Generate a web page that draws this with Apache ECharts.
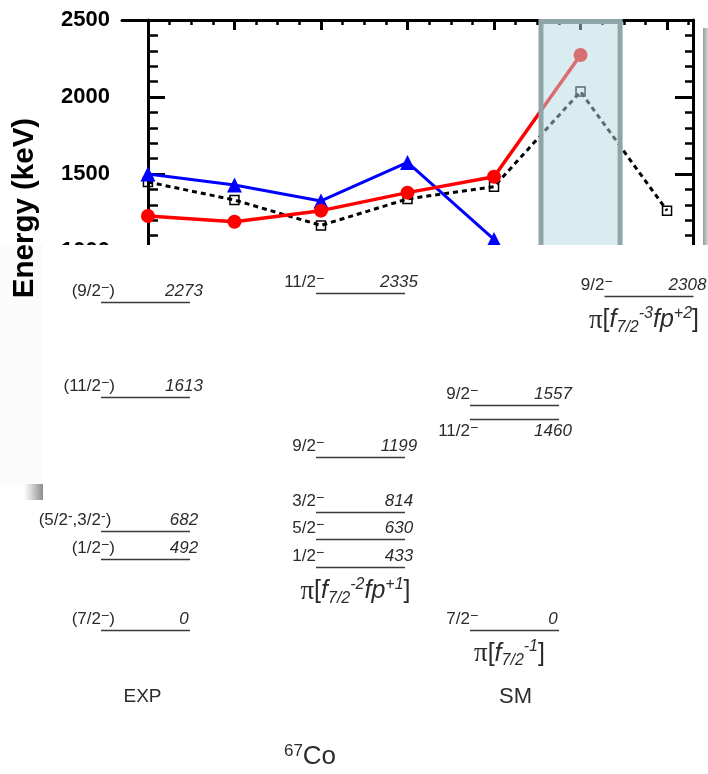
<!DOCTYPE html>
<html>
<head>
<meta charset="utf-8">
<script src="https://cdn.jsdelivr.net/npm/echarts@6/dist/echarts.min.js"></script>
<style>
  html, body { margin: 0; padding: 0; background: #fff; }
  #chart { width: 708px; height: 774px; }
</style>
</head>
<body>
<div id="chart"></div>
<script>
// ---- Energy systematics (upper panel) ----
const categoryIndex = [0, 1, 2, 3, 4, 5, 6];
const redSeries    = [1227, 1190, 1262, 1379, 1482, 2273, null];
const blueSeries   = [1500, 1429, 1325, 1575, 1075, null, null];
const dottedSeries = [1448, 1331, 1166, 1338, 1418, 2035, 1262];
const highlightedCategory = 5;
const energyTicks = [1000, 1500, 2000, 2500];

// ---- 67Co level scheme (lower panel) ----
const expSpins = ['(7/2\u2212)', '(1/2\u2212)', '(5/2-,3/2-)', '(11/2\u2212)', '(9/2\u2212)'];
const expEnergies = [0, 492, 682, 1613, 2273];
const twoHoleSpins = ['1/2\u2212', '5/2\u2212', '3/2\u2212', '9/2\u2212', '11/2\u2212'];
const twoHoleEnergies = [433, 630, 814, 1199, 2335];
const oneHoleSpins = ['7/2\u2212', '11/2\u2212', '9/2\u2212'];
const oneHoleEnergies = [0, 1460, 1557];
const threeHoleSpins = ['9/2\u2212'];
const threeHoleEnergies = [2308];

const twoHoleConfig   = '{p|\u03c0}{n|[}{i|f}{sub|7/2}{sup|-2}{i|fp}{sup|+1}{n|]}';
const oneHoleConfig   = '{p|\u03c0}{n|[}{i|f}{sub|7/2}{sup|-1}{n|]}';
const threeHoleConfig = '{p|\u03c0}{n|[}{i|f}{sub|7/2}{sup|-3}{i|fp}{sup|+2}{n|]}';
const columnTitles = ['EXP', 'SM'];
const nucleusMass = '67';
const nucleusSymbol = 'Co';

// ---- layout ----
const FONT = '"Liberation Sans", Arial, Helvetica, sans-serif';
const TEXT_COLOR = '#2b2b2b';
const COLUMN_CENTERS = [145.5, 360.5, 514.5, 649];
const LEVEL_HALF_WIDTH = 44.5;

const columns = [
  { spins: expSpins, energies: expEnergies, config: null },
  { spins: twoHoleSpins, energies: twoHoleEnergies, config: twoHoleConfig },
  { spins: oneHoleSpins, energies: oneHoleEnergies, config: oneHoleConfig },
  { spins: threeHoleSpins, energies: threeHoleEnergies, config: threeHoleConfig }
];

// flatten levels; a level whose neighbour above is close gets its labels below the line
const levelItems = [];
columns.forEach((c, col) => {
  c.energies.forEach((e, i) => {
    const crowded = c.energies.some(o => o > e && o - e < 150);
    levelItems.push({ col, energy: e, spin: c.spins[i], below: crowded });
  });
});
const configItems = columns
  .map((c, col) => ({ col, energy: Math.min(...c.energies), text: c.config }))
  .filter(c => c.text);

// superscripts/subscripts are lifted or dropped with padding so they sit the same way in every line
const SPIN_RICH = {
  n: { fontSize: 17, fontFamily: FONT, fill: TEXT_COLOR, lineHeight: 20 },
  s: { fontSize: 14, fontFamily: FONT, fill: TEXT_COLOR, lineHeight: 14, padding: [0, 0, 6, 0] },
  e: { fontSize: 17, fontFamily: FONT, fontStyle: 'italic', fill: TEXT_COLOR, lineHeight: 20 }
};
const CONFIG_RICH = {
  p: { fontSize: 27, fontFamily: '"Liberation Serif", "DejaVu Serif", serif', fill: TEXT_COLOR, lineHeight: 30 },
  n: { fontSize: 25, fontFamily: FONT, fill: TEXT_COLOR, lineHeight: 30 },
  i: { fontSize: 25, fontFamily: FONT, fontStyle: 'italic', fill: TEXT_COLOR, lineHeight: 30 },
  sub: { fontSize: 16, fontFamily: FONT, fontStyle: 'italic', fill: TEXT_COLOR, lineHeight: 16, padding: [14, 0, 0, 0] },
  sup: { fontSize: 16, fontFamily: FONT, fontStyle: 'italic', fill: TEXT_COLOR, lineHeight: 16, padding: [0, 0, 14, 0] }
};

// each piece ends with a plain token so the line box always has full height
function toRich(s) {
  return s.split(/([\u2212-])/).filter(Boolean)
    .map(t => /[\u2212-]/.test(t) ? '{s|' + t + '}' : '{n|' + t + '}').join('') + '{n| }';
}
function splitSpin(s) {
  const idx = Math.max(s.lastIndexOf('\u2212'), s.lastIndexOf('-'));
  return [s.slice(0, idx), s.slice(idx)];
}
function pairs(values) {
  return categoryIndex.map((c, i) => [c, values[i]]).filter(p => p[1] != null);
}

// minor tick positions on the top axis (quarters between categories)
const minorTickValues = [];
categoryIndex.forEach(c => [0.25, 0.5, 0.75].forEach(f => {
  if (c + f < 6.3) minorTickValues.push(c + f);
}));

const AXIS_LINE = { show: true, lineStyle: { color: '#000', width: 3 } };
const mainGrid = { left: 122, top: 20, width: 571, height: 231 };

const chart = echarts.init(document.getElementById('chart'), null, { renderer: 'canvas' });

chart.setOption({
  animation: false,
  backgroundColor: '#fff',
  grid: [
    Object.assign({}, mainGrid),
    Object.assign({}, mainGrid),
    { left: 0, top: 268.75, width: 708, height: 361.25 }
  ],
  xAxis: [
    {
      type: 'value', gridIndex: 0, position: 'top', min: -0.3, max: 6.3,
      axisLine: AXIS_LINE,
      axisTick: { show: true, inside: true, length: 10, customValues: categoryIndex, lineStyle: { color: '#000', width: 3 } },
      axisLabel: { show: false }, splitLine: { show: false }
    },
    {
      type: 'value', gridIndex: 1, position: 'top', min: -0.3, max: 6.3,
      axisLine: { show: false },
      axisTick: { show: true, inside: true, length: 5, customValues: minorTickValues, lineStyle: { color: '#000', width: 2.5 } },
      axisLabel: { show: false }, splitLine: { show: false }
    },
    { type: 'value', gridIndex: 2, min: 0, max: 1, show: false }
  ],
  yAxis: [
    {
      type: 'value', gridIndex: 0, position: 'left', min: 1000, max: 2500, interval: 500,
      axisLine: AXIS_LINE,
      axisTick: { show: true, inside: true, length: 17, lineStyle: { color: '#000', width: 3 } },
      minorTick: { show: true, splitNumber: 5, length: 10, lineStyle: { color: '#000', width: 2.5 } },
      axisLabel: { fontSize: 22, fontWeight: 'bold', fontFamily: FONT, color: '#000', margin: 12, formatter: v => String(v) },
      splitLine: { show: false }
    },
    {
      type: 'value', gridIndex: 0, position: 'right', min: 1000, max: 2500, interval: 500,
      axisLine: AXIS_LINE,
      axisTick: { show: true, inside: true, length: 18, lineStyle: { color: '#000', width: 3 } },
      minorTick: { show: true, splitNumber: 5, length: 8, lineStyle: { color: '#000', width: 2.5 } },
      axisLabel: { show: false }, splitLine: { show: false }
    },
    { type: 'value', gridIndex: 1, min: 1000, max: 2500, show: false },
    { type: 'value', gridIndex: 2, min: 0, max: 2500, show: false }
  ],
  series: [
    {
      type: 'line', xAxisIndex: 0, yAxisIndex: 0, z: 2,
      data: pairs(dottedSeries),
      symbol: 'rect', symbolSize: 9,
      itemStyle: { color: 'rgba(255,255,255,0)', borderColor: '#000', borderWidth: 1.5 },
      lineStyle: { color: '#000', width: 3, type: [5, 4] },
      emphasis: { disabled: true }
    },
    {
      type: 'line', xAxisIndex: 0, yAxisIndex: 0, z: 3,
      data: pairs(blueSeries),
      symbol: 'triangle', symbolSize: 15,
      itemStyle: { color: '#0000ff' },
      lineStyle: { color: '#0000ff', width: 3 },
      emphasis: { disabled: true }
    },
    {
      type: 'line', xAxisIndex: 0, yAxisIndex: 0, z: 4,
      data: pairs(redSeries),
      symbol: 'circle', symbolSize: 14,
      itemStyle: { color: '#ff0000' },
      lineStyle: { color: '#ff0000', width: 3.5 },
      emphasis: { disabled: true }
    },
    {
      // shaded band over the highlighted category
      type: 'custom', xAxisIndex: 0, yAxisIndex: 0, z: 6,
      data: [[highlightedCategory, energyTicks[energyTicks.length - 1]]],
      renderItem: function (params, api) {
        const top = api.coord([api.value(0), energyTicks[energyTicks.length - 1]]);
        const bottom = api.coord([api.value(0), energyTicks[0]]);
        const halfW = api.size([1, 0])[0] * 0.457;
        return {
          type: 'rect',
          shape: { x: top[0] - halfW, y: top[1] + 1.5, width: 2 * halfW, height: bottom[1] - top[1] + 10 },
          style: { fill: 'rgba(179,220,225,0.5)', stroke: '#8fa6a8', lineWidth: 5 }
        };
      }
    },
    {
      // level lines with spin and energy labels
      type: 'custom', xAxisIndex: 2, yAxisIndex: 3, z: 30,
      data: levelItems.map(l => [l.col, l.energy]),
      renderItem: function (params, api) {
        const lv = levelItems[params.dataIndex];
        const y = Math.round(api.coord([0, api.value(1)])[1]) + 0.5;
        const cx = COLUMN_CENTERS[lv.col];
        const x0 = cx - LEVEL_HALF_WIDTH, x1 = cx + LEVEL_HALF_WIDTH;
        const va = lv.below ? 'top' : 'bottom';
        const ty = lv.below ? y + 2 : y - 1;
        const parts = splitSpin(lv.spin);
        return {
          type: 'group',
          children: [
            { type: 'line', shape: { x1: x0, y1: y, x2: x1, y2: y }, style: { stroke: '#3a3a3a', lineWidth: 1.5 } },
            { type: 'text', x: x0 + 4.7, y: ty, style: { text: toRich(parts[0]), rich: SPIN_RICH, align: 'right', verticalAlign: va } },
            { type: 'text', x: x0, y: ty, style: { text: toRich(parts[1]), rich: SPIN_RICH, align: 'left', verticalAlign: va } },
            { type: 'text', x: x1 - 6, y: ty, style: { text: '{e|' + api.value(1) + '}', rich: SPIN_RICH, align: 'center', verticalAlign: va } }
          ]
        };
      }
    },
    {
      // configuration labels under the lowest level of each calculated group
      type: 'custom', xAxisIndex: 2, yAxisIndex: 3, z: 30,
      data: configItems.map(c => [c.col, c.energy]),
      renderItem: function (params, api) {
        const item = configItems[params.dataIndex];
        const y = api.coord([0, api.value(1)])[1];
        return {
          type: 'text',
          x: COLUMN_CENTERS[item.col] - 5, y: y + 24,
          style: { text: item.text, rich: CONFIG_RICH, align: 'center', verticalAlign: 'middle' }
        };
      }
    }
  ],
  graphic: {
    elements: [
      { type: 'rect', z: 19, shape: { x: 0, y: 245, width: 43, height: 240 }, style: { fill: '#fbfbfb' } },
      { type: 'rect', z: 20, shape: { x: 43, y: 245, width: 665, height: 529 }, style: { fill: '#fff' } },
      {
        type: 'rect', z: 21, shape: { x: 24, y: 484, width: 19, height: 16 },
        style: { fill: new echarts.graphic.LinearGradient(0, 0, 1, 0, [
          { offset: 0, color: 'rgba(150,150,150,0)' }, { offset: 1, color: 'rgba(140,140,140,1)' }]) }
      },
      {
        type: 'rect', z: 21, shape: { x: 703, y: 28, width: 5, height: 217 },
        style: { fill: new echarts.graphic.LinearGradient(0, 0, 1, 0, [
          { offset: 0, color: '#9a9a9a' }, { offset: 1, color: '#d6d6d6' }]) }
      },
      {
        type: 'text', z: 40, x: 25, y: 208, rotation: Math.PI / 2,
        style: { text: 'Energy (keV)', fontSize: 29.5, fontWeight: 'bold', fontFamily: FONT, fill: '#000', align: 'center', verticalAlign: 'middle' }
      },
      {
        type: 'text', z: 40, x: COLUMN_CENTERS[0] - 3, y: 697,
        style: { text: columnTitles[0], fontSize: 19, fontFamily: FONT, fill: TEXT_COLOR, align: 'center', verticalAlign: 'middle' }
      },
      {
        type: 'text', z: 40, x: COLUMN_CENTERS[2] + 1, y: 697,
        style: { text: columnTitles[1], fontSize: 22, fontFamily: FONT, fill: TEXT_COLOR, align: 'center', verticalAlign: 'middle' }
      },
      {
        type: 'text', z: 40, x: 310, y: 757,
        style: {
          text: '{a|' + nucleusMass + '}{b|' + nucleusSymbol + '}',
          rich: {
            a: { fontSize: 17, fontFamily: FONT, fill: TEXT_COLOR, lineHeight: 17, padding: [0, 0, 11, 0] },
            b: { fontSize: 26, fontFamily: FONT, fill: TEXT_COLOR, lineHeight: 28 }
          },
          align: 'center', verticalAlign: 'middle'
        }
      }
    ]
  }
});
</script>
</body>
</html>
